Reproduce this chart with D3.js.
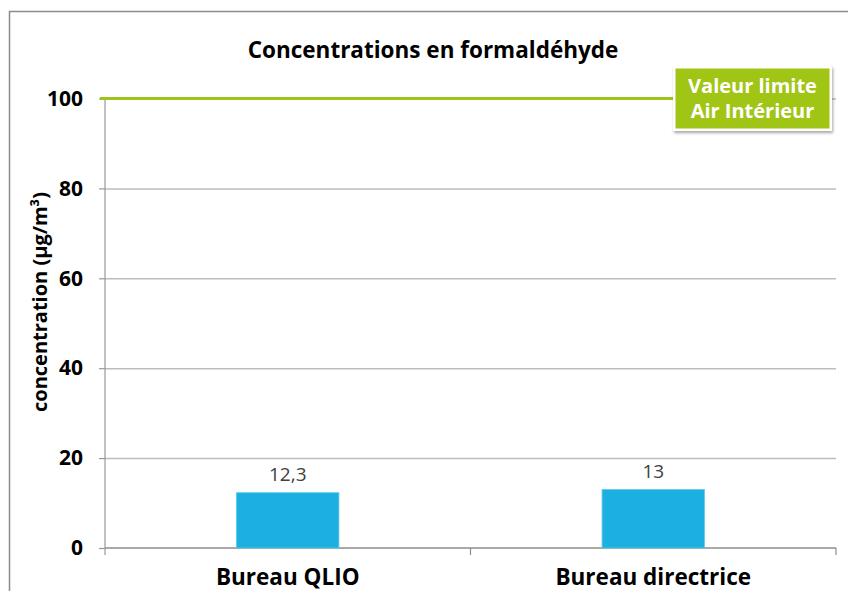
<!DOCTYPE html>
<html>
<head>
<meta charset="utf-8">
<script src="https://cdn.jsdelivr.net/npm/d3@7"></script>
<style>
  body { margin: 0; background: #fff; }
  text { font-family: "Open Sans", Lato, sans-serif; }
</style>
</head>
<body>
<script>
// data
const categories = ["Bureau QLIO", "Bureau directrice"];
const values = [12.3, 13];
const valueLabels = ["12,3", "13"];
const yTicks = [0, 20, 40, 60, 80, 100];
const limitValue = 100;
const limitLabel = ["Valeur limite", "Air Intérieur"];

const W = 848, H = 591;
const margin = {top: 98.5, right: 12, bottom: 43, left: 105};
const width = W - margin.left - margin.right,
      height = H - margin.top - margin.bottom;

const svg = d3.select("body").append("svg")
    .attr("width", W)
    .attr("height", H);

// outer frame
svg.append("rect")
    .attr("x", 9.5).attr("y", 11.5)
    .attr("width", 900).attr("height", 700)
    .attr("fill", "none")
    .attr("stroke", "#8c8c8c")
    .attr("stroke-width", 1.5);

// title
svg.append("text")
    .attr("x", 433).attr("y", 58)
    .attr("text-anchor", "middle")
    .attr("font-weight", "bold")
    .attr("font-size", 22.5)
    .attr("fill", "#000")
    .text("Concentrations en formaldéhyde");

const g = svg.append("g")
    .attr("transform", "translate(" + margin.left + "," + margin.top + ")");

const x = d3.scaleBand().domain(categories).range([0, width]).padding(0);
const y = d3.scaleLinear().domain([0, 100]).range([height, 0]);

// gridlines
g.append("g")
    .call(d3.axisLeft(y).tickValues(yTicks.slice(1)).tickSize(-width).tickFormat(""))
    .call(a => a.select(".domain").remove())
    .call(a => a.selectAll("line").attr("stroke", "#bdbdbd").attr("stroke-width", 1.5));

// y axis
g.append("g")
    .call(d3.axisLeft(y).tickValues(yTicks).tickSize(6).tickPadding(16))
    .call(a => a.select(".domain").remove())
    .call(a => a.selectAll("line").attr("stroke", "#999").attr("stroke-width", 1.2))
    .call(a => a.selectAll("text")
        .attr("font-family", "'Open Sans', sans-serif")
        .attr("font-size", 21)
        .attr("font-weight", "bold")
        .attr("fill", "#000"));

g.append("line")
    .attr("x1", 0).attr("x2", 0)
    .attr("y1", 0).attr("y2", height + 7)
    .attr("stroke", "#999").attr("stroke-width", 1.2);

// x axis
g.append("line")
    .attr("x1", 0).attr("x2", width)
    .attr("y1", height).attr("y2", height)
    .attr("stroke", "#8c8c8c").attr("stroke-width", 1.5);

const bounds = categories.map(c => x(c)).concat([width]);
g.selectAll(".xtick").data(bounds.slice(1)).enter().append("line")
    .attr("x1", d => d).attr("x2", d => d)
    .attr("y1", height).attr("y2", height + 7)
    .attr("stroke", "#8c8c8c").attr("stroke-width", 1.2);

g.selectAll(".xlabel").data(categories).enter().append("text")
    .attr("x", d => x(d) + x.bandwidth() / 2)
    .attr("y", height + 37)
    .attr("text-anchor", "middle")
    .attr("font-size", 22.5)
    .attr("font-weight", "bold")
    .attr("fill", "#000")
    .text(d => d);

// bars
const barW = x.bandwidth() * 0.28;
g.selectAll(".bar").data(values).enter().append("rect")
    .attr("x", (d, i) => x(categories[i]) + (x.bandwidth() - barW) / 2)
    .attr("y", d => y(d))
    .attr("width", barW)
    .attr("height", d => height - y(d))
    .attr("fill", "#1cb0e0")
    .attr("stroke", "#5cc8ec")
    .attr("stroke-width", 0.8);

g.selectAll(".vlabel").data(values).enter().append("text")
    .attr("x", (d, i) => x(categories[i]) + x.bandwidth() / 2)
    .attr("y", d => y(d) - 12)
    .attr("text-anchor", "middle")
    .attr("font-size", 19)
    .attr("fill", "#404040")
    .text((d, i) => valueLabels[i]);

// y axis title
svg.append("text")
    .attr("transform", "translate(47,302) rotate(-90)")
    .attr("text-anchor", "middle")
    .attr("font-size", 20)
    .attr("font-weight", "bold")
    .attr("fill", "#000")
    .text("concentration (µg/m³)");

// limit line
const boxX = 673 - margin.left, boxW = 159;
g.append("line")
    .attr("x1", -5).attr("x2", boxX)
    .attr("y1", y(limitValue)).attr("y2", y(limitValue))
    .attr("stroke", "#9dc41a").attr("stroke-width", 3);

// limit label box
const defs = svg.append("defs");
const f = defs.append("filter").attr("id", "sh").attr("x", "-10%").attr("y", "-10%").attr("width", "130%").attr("height", "140%");
f.append("feDropShadow").attr("dx", 1).attr("dy", 2).attr("stdDeviation", 1.5).attr("flood-color", "#000").attr("flood-opacity", 0.35);

const box = g.append("g").attr("transform", "translate(" + boxX + "," + (66 - margin.top) + ")");
box.append("rect")
    .attr("width", boxW).attr("height", 65)
    .attr("fill", "#fff")
    .attr("filter", "url(#sh)");
box.append("rect")
    .attr("x", 2.5).attr("y", 2.5)
    .attr("width", boxW - 5).attr("height", 60)
    .attr("fill", "#a0c515");
box.selectAll("text").data(limitLabel).enter().append("text")
    .attr("x", boxW / 2)
    .attr("y", (d, i) => 27 + i * 25)
    .attr("text-anchor", "middle")
    .attr("font-size", 20)
    .attr("font-weight", "bold")
    .attr("fill", "#fff")
    .text(d => d);
</script>
</body>
</html>
